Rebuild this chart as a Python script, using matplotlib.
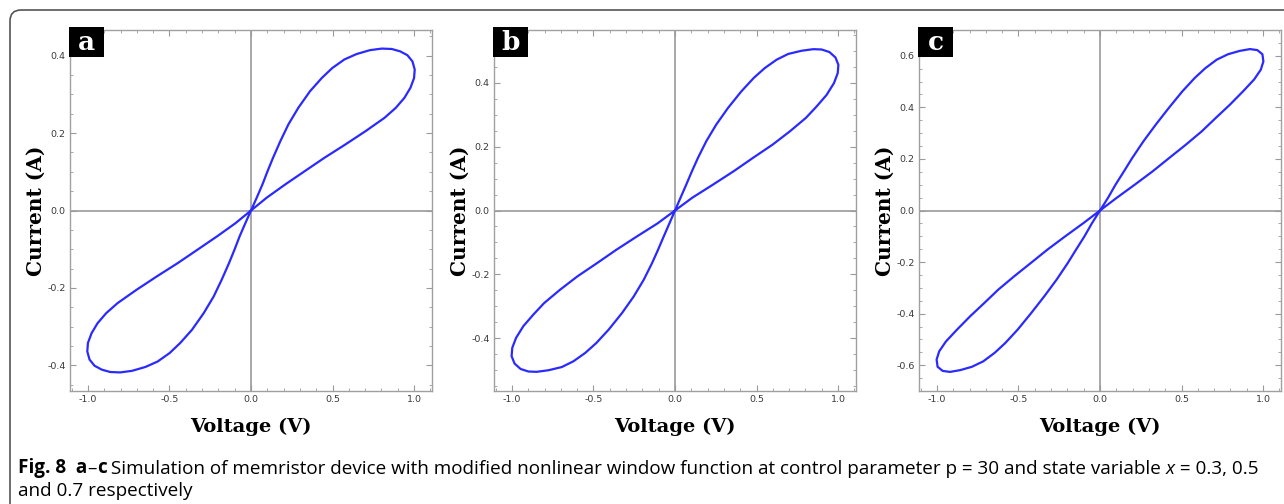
import numpy as np
import matplotlib.pyplot as plt
from matplotlib.patches import FancyBboxPatch, Rectangle
from matplotlib.ticker import MultipleLocator

plt.rcParams['axes.unicode_minus'] = False

# values; each lobe starts and ends at the origin
# panel a (x = 0.3)
v_a_pos = [0.0, 0.035, 0.070, 0.102, 0.135, 0.180, 0.229, 0.290, 0.362, 0.434, 0.499, 0.573, 0.648,
           0.730, 0.802, 0.863, 0.914, 0.959, 0.990, 1.004, 1.000, 0.978, 0.941, 0.888, 0.818,
           0.703, 0.577, 0.450, 0.331, 0.209, 0.096, 0.0]
i_a_pos = [0.0, 0.033, 0.067, 0.102, 0.136, 0.179, 0.222, 0.265, 0.308, 0.342, 0.368, 0.390, 0.404,
           0.414, 0.418, 0.417, 0.411, 0.401, 0.385, 0.364, 0.342, 0.317, 0.291, 0.265, 0.239,
           0.205, 0.170, 0.136, 0.102, 0.067, 0.033, 0.0]
v_a_neg = [0.0, -0.035, -0.070, -0.102, -0.135, -0.180, -0.229, -0.290, -0.362, -0.434, -0.499, -0.573, -0.648,
           -0.730, -0.802, -0.863, -0.914, -0.959, -0.990, -1.004, -1.000, -0.978, -0.941, -0.888, -0.818,
           -0.703, -0.577, -0.450, -0.331, -0.209, -0.096, 0.0]
i_a_neg = [0.0, -0.033, -0.067, -0.102, -0.136, -0.179, -0.222, -0.265, -0.308, -0.342, -0.368, -0.390, -0.404,
           -0.414, -0.418, -0.417, -0.411, -0.401, -0.385, -0.364, -0.342, -0.317, -0.291, -0.265, -0.239,
           -0.205, -0.170, -0.136, -0.102, -0.067, -0.033, 0.0]

# panel b (x = 0.5)
v_b_pos = [0.0, 0.034, 0.069, 0.104, 0.141, 0.192, 0.253, 0.325, 0.407, 0.483, 0.551, 0.623, 0.694,
           0.776, 0.848, 0.899, 0.947, 0.984, 1.002, 0.998, 0.975, 0.930, 0.869, 0.803, 0.705,
           0.598, 0.479, 0.360, 0.233, 0.106, 0.0]
i_b_pos = [0.0, 0.040, 0.081, 0.123, 0.165, 0.217, 0.269, 0.321, 0.373, 0.415, 0.446, 0.472, 0.490,
           0.500, 0.505, 0.504, 0.496, 0.479, 0.456, 0.430, 0.399, 0.362, 0.326, 0.290, 0.248,
           0.206, 0.165, 0.123, 0.081, 0.040, 0.0]
v_b_neg = [0.0, -0.034, -0.069, -0.104, -0.141, -0.192, -0.253, -0.325, -0.407, -0.483, -0.551, -0.623, -0.694,
           -0.776, -0.848, -0.899, -0.947, -0.984, -1.002, -0.998, -0.975, -0.930, -0.869, -0.803, -0.705,
           -0.598, -0.479, -0.360, -0.233, -0.106, 0.0]
i_b_neg = [0.0, -0.040, -0.081, -0.123, -0.165, -0.217, -0.269, -0.321, -0.373, -0.415, -0.446, -0.472, -0.490,
           -0.500, -0.505, -0.504, -0.496, -0.479, -0.456, -0.430, -0.399, -0.362, -0.326, -0.290, -0.248,
           -0.206, -0.165, -0.123, -0.081, -0.040, 0.0]

# panel c (x = 0.7)
v_c_pos = [0.0, 0.049, 0.096, 0.147, 0.198, 0.266, 0.342, 0.421, 0.505, 0.581, 0.646, 0.716, 0.785,
           0.857, 0.920, 0.965, 0.996, 1.002, 0.986, 0.945, 0.877, 0.796, 0.710, 0.624, 0.526,
           0.425, 0.323, 0.215, 0.102, 0.0]
i_c_pos = [0.0, 0.049, 0.101, 0.152, 0.204, 0.268, 0.333, 0.397, 0.462, 0.514, 0.552, 0.585, 0.606,
           0.619, 0.626, 0.622, 0.606, 0.578, 0.546, 0.508, 0.462, 0.410, 0.359, 0.307, 0.255,
           0.204, 0.152, 0.101, 0.049, 0.0]
v_c_neg = [0.0, -0.049, -0.096, -0.147, -0.198, -0.266, -0.342, -0.421, -0.505, -0.581, -0.646, -0.716, -0.785,
           -0.857, -0.920, -0.965, -0.996, -1.002, -0.986, -0.945, -0.877, -0.796, -0.710, -0.624, -0.526,
           -0.425, -0.323, -0.215, -0.102, 0.0]
i_c_neg = [0.0, -0.049, -0.101, -0.152, -0.204, -0.268, -0.333, -0.397, -0.462, -0.514, -0.552, -0.585, -0.606,
           -0.619, -0.626, -0.622, -0.606, -0.578, -0.546, -0.508, -0.462, -0.410, -0.359, -0.307, -0.255,
           -0.204, -0.152, -0.101, -0.049, 0.0]

letters = ['a', 'b', 'c']
ylims = [0.466, 0.565, 0.70]
lefts = [70, 494, 919]

W, H = 1284, 504
fig = plt.figure(figsize=(W / 100, H / 100), dpi=100)

# rounded frame around the whole figure (runs off right and bottom edges), in inches
frame = FancyBboxPatch((0.10, -1.0), 14.0, 6.04 - 0.10,
                       boxstyle='round,pad=0,rounding_size=0.11',
                       transform=fig.dpi_scale_trans, fc='none', ec='#555555', lw=1.2)
fig.patches.append(frame)

curves = [(v_a_pos, i_a_pos, v_a_neg, i_a_neg),
          (v_b_pos, i_b_pos, v_b_neg, i_b_neg),
          (v_c_pos, i_c_pos, v_c_neg, i_c_neg)]

for k in range(3):
    ax = fig.add_axes([lefts[k] / W, 1 - 391 / H, 362 / W, 361 / H])
    vp, ip, vn, inn = curves[k]
    ax.axhline(0, color='#9a9a9a', lw=1.2, zorder=1)
    ax.axvline(0, color='#9a9a9a', lw=1.2, zorder=1)
    ax.plot(vp, ip, color='#2a2aff', lw=1.6, zorder=3, solid_joinstyle='round')
    ax.plot(vn, inn, color='#2a2aff', lw=1.6, zorder=3, solid_joinstyle='round')
    ax.set_xlim(-1.11, 1.11)
    ax.set_ylim(-ylims[k], ylims[k])
    ax.xaxis.set_major_locator(MultipleLocator(0.5))
    ax.xaxis.set_minor_locator(MultipleLocator(0.1))
    ax.yaxis.set_major_locator(MultipleLocator(0.2))
    ax.yaxis.set_minor_locator(MultipleLocator(0.05))
    ax.tick_params(which='both', direction='in', top=True, right=True,
                   color='#9a9a9a', labelsize=6.8, labelcolor='#3a3a3a', pad=3)
    ax.tick_params(which='major', length=4, width=0.8)
    ax.tick_params(which='minor', length=2, width=0.6)
    for s in ax.spines.values():
        s.set_color('#a0a0a0')
        s.set_linewidth(1.0)
    ax.set_xlabel('Voltage (V)', family='DejaVu Serif', fontweight='bold',
                  fontsize=14, labelpad=10)
    ax.set_ylabel('Current (A)', family='DejaVu Serif', fontweight='bold',
                  fontsize=14.5, labelpad=1)

    # black tag with the panel letter
    x0 = lefts[k] - 1
    fig.add_artist(Rectangle((x0 / W, 1 - 57 / H), 35 / W, 30 / H,
                             transform=fig.transFigure, fc='black', ec='none', zorder=10))
    fig.text((x0 + 17.5) / W, 1 - 43 / H, letters[k], ha='center', va='center',
             family='DejaVu Serif', fontweight='bold', fontsize=19, color='white', zorder=11)

# caption, built from pieces so bold / italic parts follow each other
cap = fig.add_axes([0, 0, 1, 1])
cap.axis('off')
cap_size = 13.6
line1 = [('Fig. 8  a', 'bold', 'normal'),
         ('–', 'normal', 'normal'),
         ('c', 'bold', 'normal'),
         (' Simulation of memristor device with modified nonlinear window function at control '
          'parameter p = 30 and state variable ', 'normal', 'normal'),
         ('x', 'normal', 'italic'),
         (' = 0.3, 0.5', 'normal', 'normal')]
prev = cap.text(18 / W, 1 - 478 / H, line1[0][0], fontsize=cap_size, family='Open Sans',
                fontweight=line1[0][1], ha='left', va='bottom', transform=cap.transAxes)
for txt, wt, st in line1[1:]:
    prev = cap.annotate(txt, xy=(1, 0), xycoords=prev, fontsize=cap_size, family='Open Sans',
                        fontweight=wt, fontstyle=st, ha='left', va='bottom')
cap.text(18 / W, 1 - 500 / H, 'and 0.7 respectively', fontsize=cap_size, family='Open Sans',
         ha='left', va='bottom', transform=cap.transAxes)

fig.savefig('out.png', dpi=100)
